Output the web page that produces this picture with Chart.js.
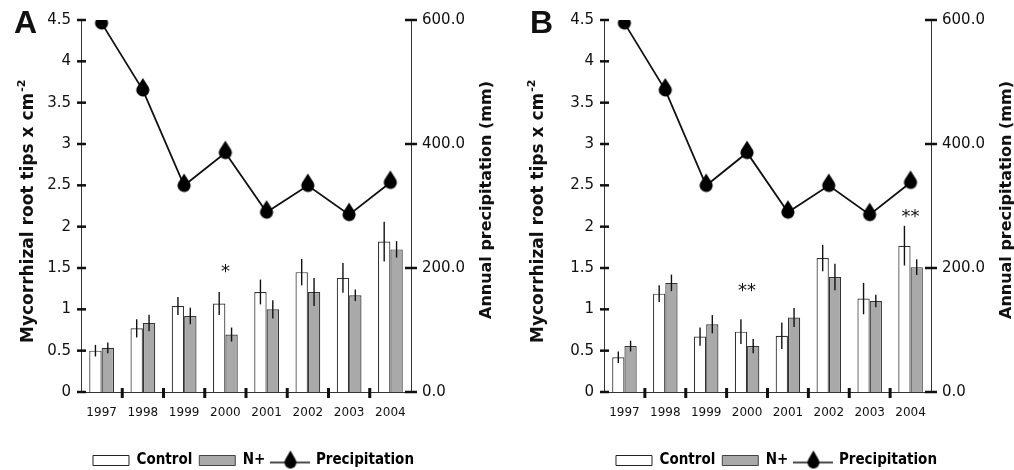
<!DOCTYPE html>
<html><head><meta charset="utf-8">
<script src="https://cdn.jsdelivr.net/npm/chart.js@4.4.1/dist/chart.umd.min.js"></script>
<style>
html,body{margin:0;padding:0;background:#fff;overflow:hidden;width:1014px;height:470px;}
.panel{position:absolute;top:0;width:507px;height:470px;}
#wa{left:0px} #wb{left:523px}
</style></head><body>
<div class="panel" id="wa"><canvas id="ca" width="507" height="470"></canvas></div>
<div class="panel" id="wb"><canvas id="cb" width="507" height="470"></canvas></div>
<script>
// ---- data ----
const years = ['1997','1998','1999','2000','2001','2002','2003','2004'];
const seriesNames = ['Control','N+','Precipitation'];
const leftTitle = 'Mycorrhizal root tips x cm';
const leftTitleSup = '-2';
const rightTitle = 'Annual precipitation (mm)';

const controlA    = [0.50, 0.77, 1.04, 1.07, 1.21, 1.45, 1.38, 1.82];
const controlErrA = [0.07, 0.11, 0.11, 0.14, 0.15, 0.16, 0.18, 0.24];
const nplusA      = [0.535,0.835,0.92, 0.695,1.00, 1.21, 1.17, 1.725];
const nplusErrA   = [0.065,0.10, 0.10, 0.085,0.11, 0.17, 0.07, 0.10];
const precipA     = [595, 487, 333, 386, 290, 333, 286, 338];
const signifA     = [{year:'2000', value:1.49, text:'*'}];

const controlB    = [0.42, 1.19, 0.67, 0.73, 0.68, 1.62, 1.13, 1.77];
const controlErrB = [0.07, 0.10, 0.11, 0.15, 0.16, 0.16, 0.19, 0.24];
const nplusB      = [0.555,1.32, 0.82, 0.555,0.90, 1.39, 1.10, 1.51];
const nplusErrB   = [0.065,0.10, 0.11, 0.085,0.115,0.16, 0.075,0.095];
const precipB     = [595, 487, 333, 386, 290, 333, 286, 338];
const signifB     = [{year:'2000', value:1.27, text:'**'}, {year:'2004', value:2.16, text:'**'}];

const leftMax = 4.5, leftStep = 0.5;
const rightMax = 600, rightStep = 200;

// ---- styles ----
const TXT = '#111';
const AXIS = '#333';
const GRAY = '#a9a9a9';
const FONT = '"DejaVu Sans", sans-serif';
const LEGFONT = '"DejaVu Sans Condensed", "Liberation Sans Narrow", "DejaVu Sans", sans-serif';

function makeDrop(w, h, cy, r, d, withLine) {
  const c = document.createElement('canvas');
  c.width = w; c.height = h;
  const g = c.getContext('2d');
  const cx = w / 2;
  if (withLine) {
    g.strokeStyle = TXT; g.lineWidth = 1.6;
    g.beginPath(); g.moveTo(0, cy); g.lineTo(w, cy); g.stroke();
  }
  const a = Math.acos(r / d);
  g.fillStyle = '#000';
  g.beginPath();
  g.moveTo(cx, cy - d);
  g.lineTo(cx + r * Math.cos(-Math.PI/2 + a), cy + r * Math.sin(-Math.PI/2 + a));
  g.arc(cx, cy, r, -Math.PI/2 + a, -Math.PI/2 - a, false);
  g.closePath();
  g.fill();
  return c;
}
const dropPoint = makeDrop(16, 28, 14, 6.5, 12, false);
const dropLegend = makeDrop(40, 28, 16, 6, 12, true);

const decor = {
  id: 'decor',
  afterDatasetsDraw(chart, args, o) {
    const ctx = chart.ctx;
    const y = chart.scales.y;
    [[0, o.errs[0]], [1, o.errs[1]]].forEach(([di, errs]) => {
      const meta = chart.getDatasetMeta(di);
      const vals = chart.data.datasets[di].data;
      meta.data.forEach((bar, i) => {
        ctx.save();
        ctx.strokeStyle = '#111'; ctx.lineWidth = 1.4;
        ctx.beginPath();
        ctx.moveTo(bar.x, y.getPixelForValue(vals[i] - errs[i]));
        ctx.lineTo(bar.x, y.getPixelForValue(vals[i] + errs[i]));
        ctx.stroke();
        ctx.restore();
      });
    });
  },
  afterDraw(chart, args, o) {
    const ctx = chart.ctx;
    const x = chart.scales.x, y = chart.scales.y, y1 = chart.scales.y1;
    const ca = chart.chartArea;
    ctx.save();
    ctx.fillStyle = '#111';
    y.ticks.forEach(t => {
      const py = y.getPixelForValue(t.value);
      ctx.fillRect(ca.left - 4, py - 1.25, 9, 2.5);
    });
    y1.ticks.forEach(t => {
      const py = y1.getPixelForValue(t.value);
      ctx.fillRect(ca.right - 6, py - 1.25, 12, 2.5);
    });
    for (let i = 1; i < years.length; i++) {
      const px = (x.getPixelForValue(i - 1) + x.getPixelForValue(i)) / 2;
      ctx.fillRect(px - 1.5, ca.bottom - 4, 3, 10);
    }
    ctx.font = '18px ' + FONT;
    ctx.textAlign = 'center';
    ctx.textBaseline = 'alphabetic';
    o.signif.forEach(s => {
      const px = x.getPixelForValue(years.indexOf(s.year));
      const py = y.getPixelForValue(s.value);
      const m = ctx.measureText(s.text);
      ctx.fillText(s.text, px, py + (m.actualBoundingBoxAscent - m.actualBoundingBoxDescent) / 2);
    });
    ctx.font = 'bold 32px "Liberation Sans", Arial, sans-serif';
    ctx.textAlign = 'left';
    ctx.fillText(o.letter, o.letterX, 33);
    ctx.save();
    ctx.translate(o.leftTitleX, 343);
    ctx.rotate(-Math.PI / 2);
    ctx.font = 'bold 17px ' + FONT;
    ctx.textBaseline = 'middle';
    ctx.fillText(leftTitle, 0, 0);
    const w = ctx.measureText(leftTitle).width;
    ctx.font = 'bold 11px ' + FONT;
    ctx.fillText(leftTitleSup, w + 1, -7);
    ctx.restore();
    ctx.save();
    ctx.translate(o.rightTitleX, 200);
    ctx.rotate(-Math.PI / 2);
    ctx.font = 'bold 16px ' + FONT;
    ctx.textAlign = 'center';
    ctx.textBaseline = 'middle';
    ctx.fillText(rightTitle, 0, 0);
    ctx.restore();
    ctx.restore();
  }
};

function build(canvasId, p) {
  return new Chart(document.getElementById(canvasId), {
    data: {
      labels: years,
      datasets: [
        { type: 'bar', label: seriesNames[0], data: p.control, yAxisID: 'y',
          backgroundColor: '#ffffff', borderColor: AXIS, borderWidth: 1.2,
          categoryPercentage: 0.6, barPercentage: 1.0, order: 2 },
        { type: 'bar', label: seriesNames[1], data: p.nplus, yAxisID: 'y',
          backgroundColor: GRAY, borderColor: AXIS, borderWidth: 1.2,
          categoryPercentage: 0.6, barPercentage: 1.0, order: 2 },
        { type: 'line', label: seriesNames[2], data: p.precip, yAxisID: 'y1',
          borderColor: '#111', borderWidth: 1.8, tension: 0, fill: false,
          pointStyle: dropPoint, pointRadius: 7, order: 1 }
      ]
    },
    options: {
      responsive: false,
      animation: false,
      devicePixelRatio: 1,
      layout: { padding: { top: 17, left: 0, right: 0, bottom: -8 } },
      scales: {
        x: {
          type: 'category', offset: true,
          grid: { display: false, drawTicks: false },
          border: { display: true, color: AXIS, width: 1 },
          ticks: { color: TXT, font: { family: FONT, size: 12 }, padding: 14, maxRotation: 0, autoSkip: false },
          afterFit: s => { s.height = 54; }
        },
        y: {
          position: 'left', min: 0, max: leftMax,
          grid: { display: false, drawTicks: false },
          border: { display: true, color: AXIS, width: 1 },
          ticks: { stepSize: leftStep, color: TXT, font: { family: FONT, size: 15 }, padding: 10,
                   callback: v => String(Math.round(v * 10) / 10) },
          afterFit: s => { s.width = p.leftW; }
        },
        y1: {
          position: 'right', min: 0, max: rightMax,
          grid: { display: false, drawTicks: false },
          border: { display: true, color: AXIS, width: 1 },
          ticks: { stepSize: rightStep, color: TXT, font: { family: FONT, size: 15 }, padding: 11,
                   callback: v => Number(v).toFixed(1) },
          afterFit: s => { s.width = p.rightW; }
        }
      },
      plugins: {
        tooltip: { enabled: false },
        legend: {
          position: 'bottom', align: 'center',
          labels: {
            usePointStyle: true, pointStyleWidth: 36, boxHeight: 10, padding: 7,
            color: TXT, font: { family: LEGFONT, size: 15, weight: 'bold' },
            generateLabels: () => [
              { text: seriesNames[0], fillStyle: '#ffffff', strokeStyle: '#222', lineWidth: 1, pointStyle: 'rect', hidden: false, datasetIndex: 0 },
              { text: seriesNames[1], fillStyle: GRAY, strokeStyle: '#444', lineWidth: 1, pointStyle: 'rect', hidden: false, datasetIndex: 1 },
              { text: seriesNames[2], fillStyle: '#000', strokeStyle: '#000', lineWidth: 0, pointStyle: dropLegend, hidden: false, datasetIndex: 2 }
            ]
          }
        },
        decor: {
          errs: [p.controlErr, p.nplusErr], signif: p.signif, letter: p.letter,
          letterX: p.letterX, leftTitleX: p.leftTitleX, rightTitleX: p.rightTitleX
        }
      }
    },
    plugins: [decor]
  });
}

build('ca', { control: controlA, controlErr: controlErrA, nplus: nplusA, nplusErr: nplusErrA,
  precip: precipA, signif: signifA, letter: 'A', letterX: 14, leftTitleX: 29, rightTitleX: 487,
  leftW: 81, rightW: 96 });
build('cb', { control: controlB, controlErr: controlErrB, nplus: nplusB, nplusErr: nplusErrB,
  precip: precipB, signif: signifB, letter: 'B', letterX: 7, leftTitleX: 16, rightTitleX: 484,
  leftW: 81, rightW: 99 });
</script>
</body></html>
